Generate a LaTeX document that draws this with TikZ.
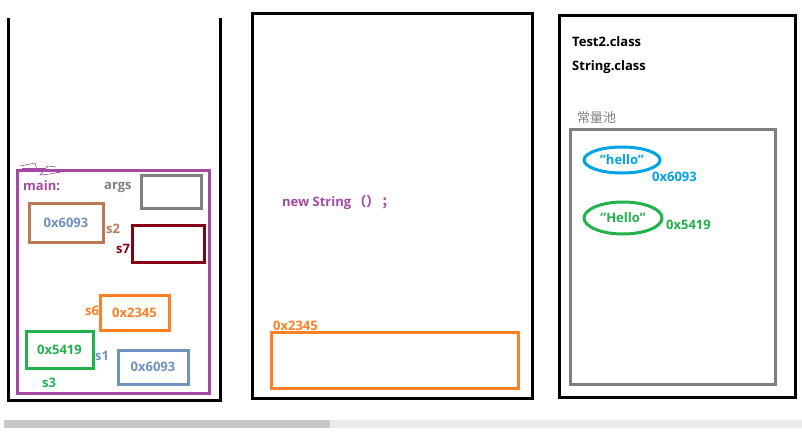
\documentclass[tikz,border=0pt]{standalone}
\usepackage{fontspec}
\setmainfont{Open Sans}
\newfontfamily\cjk{Noto Sans CJK SC}
\definecolor{ppurple}{HTML}{A349A4}
\definecolor{pbrown}{HTML}{B97A57}
\definecolor{pblue}{HTML}{7092BE}
\definecolor{pdred}{HTML}{880015}
\definecolor{porange}{HTML}{FF7F27}
\definecolor{pgreen}{HTML}{22B14C}
\definecolor{pgray}{HTML}{7F7F7F}
\definecolor{pcyan}{HTML}{00A2E8}
\newcommand{\dq}{\symbol{34}}
\tikzset{
  panel/.style={draw=black,line width=3pt},
  cbox/.style={draw=#1,line width=3pt,rectangle,inner sep=0pt},
  lbl/.style={text=#1,font=\bfseries\fontsize{13}{15}\selectfont,inner sep=0pt,anchor=west},
  oval/.style={draw=#1,line width=3pt,ellipse,inner sep=0pt},
}
\usetikzlibrary{shapes.geometric}
\begin{document}
\begin{tikzpicture}[x=1pt,y=-1pt]
\useasboundingbox (0,0) rectangle (802,437);
\fill[white] (0,0) rectangle (802,437);
% scrollbar
\fill[black!8] (330,420) rectangle (802,428);
\fill[black!22] (4,420) rectangle (330,428);
% stack panel
\draw[panel] (8,18) -- (8,400) -- (220,400) -- (220,18);
% main frame
\draw[draw=ppurple,line width=3pt] (17,170) rectangle (209,393);
\draw[ppurple,line width=0.6pt] (20,166) -- (35,163) -- (37,170) -- (60,172) -- (72,170) -- (50,174) -- (40,175) -- (48,166) -- (56,167);
\draw[ppurple,line width=0.6pt] (22,168) -- (45,168);
\node[lbl=ppurple] (main) at (23,186) {main:};
\node[lbl=pgray] (args) at (104,187) {args};
\node[cbox=pgray,minimum width=60pt,minimum height=33pt] (argsbox) at (171,191.5) {};
\node[cbox=pbrown,minimum width=74pt,minimum height=39pt] (s2box) at (66,222.5) {};
\node[lbl=pblue,anchor=center] (s2val) at (s2box.center) {0x6093};
\node[lbl=pbrown] (s2) at (106,229) {s2};
\node[cbox=pdred,minimum width=72pt,minimum height=37pt] (s7box) at (168,243.5) {};
\node[lbl=pdred] (s7) at (116,249) {s7};
\node[cbox=porange,minimum width=69pt,minimum height=35pt] (s6box) at (134.5,312.5) {};
\node[lbl=porange,anchor=center] (s6val) at (s6box.center) {0x2345};
\node[lbl=porange] (s6) at (85,311) {s6};
\node[cbox=pgreen,minimum width=67pt,minimum height=37pt] (s3box) at (59.5,349.5) {};
\node[lbl=pgreen,anchor=center] (s3val) at (s3box.center) {0x5419};
\node[lbl=pgreen] (s3) at (42,383) {s3};
\node[lbl=pblue] (s1) at (95,356) {s1};
\node[cbox=pblue,minimum width=70pt,minimum height=34pt] (s1box) at (153,367) {};
\node[lbl=pblue,anchor=center] (s1val) at (s1box.center) {0x6093};
% heap panel
\draw[panel] (252,13) rectangle (532,398);
\node[lbl=ppurple] (newstr) at (282,202) {new String\,{\cjk\bfseries（）\,；}};
\node[cbox=porange,minimum width=247pt,minimum height=56pt] (obj) at (394.5,360) {};
\node[lbl=porange] (objaddr) at (273,326) {0x2345};
% method area panel
\draw[panel] (559,15) rectangle (795,397);
\node[lbl=black] (t2) at (572,42) {Test2.class};
\node[lbl=black] (sc) at (572,67) {String.class};
\node[text=pgray,font=\cjk\fontsize{13}{15}\selectfont,inner sep=0pt,anchor=west] (pool) at (577,118) {常量池};
\node[cbox=pgray,minimum width=205pt,minimum height=255pt] (poolbox) at (672.5,256.5) {};
\node[oval=pcyan,minimum width=76pt,minimum height=26pt] (hello) at (622,160) {};
\node[lbl=pcyan,anchor=center] (hellot) at (hello.center) {\dq hello\dq};
\node[lbl=pcyan] (ha) at (652,177) {0x6093};
\node[oval=pgreen,minimum width=78pt,minimum height=32pt] (Hello) at (623,218) {};
\node[lbl=pgreen,anchor=center] (Hellot) at (Hello.center) {\dq Hello\dq};
\node[lbl=pgreen] (Ha) at (666,225) {0x5419};
\end{tikzpicture}
\end{document}
